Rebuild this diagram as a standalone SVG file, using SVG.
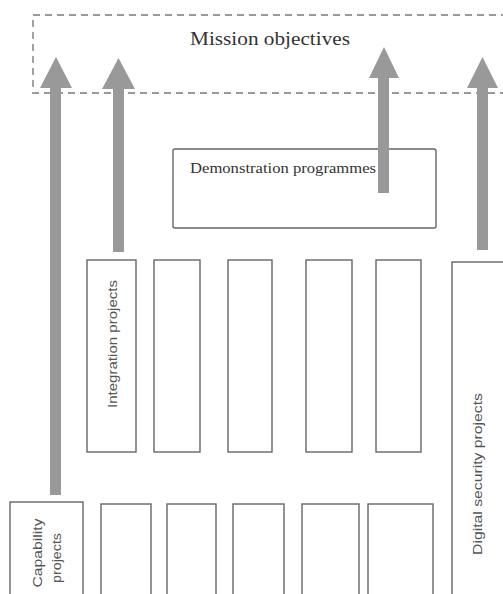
<svg xmlns="http://www.w3.org/2000/svg" width="503" height="594" viewBox="0 0 503 594">
<style>
.box{fill:#fff;stroke:#666;stroke-width:1.4}
.dash{fill:none;stroke:#9a9a9a;stroke-width:1.8;stroke-dasharray:7 5}
.arrow{fill:#999}
.serif{font-family:"Liberation Serif","Times New Roman",serif;fill:#333}
.sans{font-family:"Liberation Sans",Arial,sans-serif;fill:#555;font-size:13px}
</style>
<rect width="503" height="594" fill="#fff"/>
<g id="mission">
<rect class="dash" x="33" y="15" width="480" height="78"/>
<text class="serif" x="270" y="45" font-size="19" text-anchor="middle" textLength="160" lengthAdjust="spacingAndGlyphs">Mission objectives</text>
</g>
<g id="demonstration">
<rect class="box" x="173" y="149" width="263" height="79" rx="2"/>
<text class="serif" x="190" y="173" font-size="15" textLength="186" lengthAdjust="spacingAndGlyphs">Demonstration programmes</text>
</g>
<g id="integration">
<rect class="box" x="87" y="260" width="49" height="192"/>
<text class="sans" transform="translate(117,344) rotate(-90)" text-anchor="middle" textLength="128" lengthAdjust="spacingAndGlyphs">Integration projects</text>
</g>
<g id="row1-b2"><rect class="box" x="154" y="260" width="46" height="192"/></g>
<g id="row1-b3"><rect class="box" x="228" y="260" width="44" height="192"/></g>
<g id="row1-b4"><rect class="box" x="306" y="260" width="46" height="192"/></g>
<g id="row1-b5"><rect class="box" x="376" y="260" width="45" height="192"/></g>
<g id="digital">
<rect class="box" x="452" y="262" width="60" height="340"/>
<text class="sans" transform="translate(482,474) rotate(-90)" text-anchor="middle" textLength="162" lengthAdjust="spacingAndGlyphs">Digital security projects</text>
</g>
<g id="capability">
<rect class="box" x="10" y="502" width="73" height="100"/>
<text class="sans" transform="translate(42,553) rotate(-90)" text-anchor="middle" textLength="69" lengthAdjust="spacingAndGlyphs">Capability</text>
<text class="sans" transform="translate(61,558) rotate(-90)" text-anchor="middle" textLength="50" lengthAdjust="spacingAndGlyphs">projects</text>
</g>
<g id="row2-b2"><rect class="box" x="101" y="504" width="50" height="100"/></g>
<g id="row2-b3"><rect class="box" x="167" y="504" width="49" height="100"/></g>
<g id="row2-b4"><rect class="box" x="233" y="504" width="51" height="100"/></g>
<g id="row2-b5"><rect class="box" x="302" y="504" width="57" height="100"/></g>
<g id="row2-b6"><rect class="box" x="368" y="504" width="65" height="100"/></g>
<g id="connectors">
<path class="arrow" d="M50,495 V88 H40 L56,57 L72,88 H61 V495 Z"/>
<path class="arrow" d="M113,252 V89 H102 L118.5,58 L135,89 H124 V252 Z"/>
<path class="arrow" d="M378,193 V78 H369 L384,47 L399,78 H389 V193 Z"/>
<path class="arrow" d="M477,250 V88 H467 L482.5,57 L498,88 H488 V250 Z"/>
</g>
</svg>
